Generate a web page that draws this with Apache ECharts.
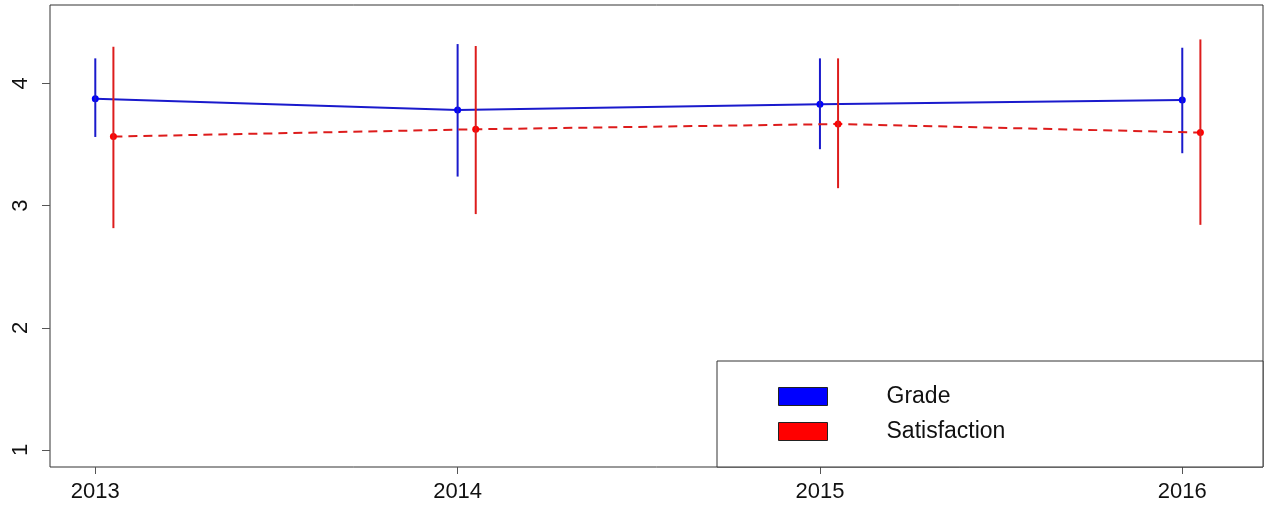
<!DOCTYPE html>
<html>
<head>
<meta charset="utf-8">
<script src="https://cdn.jsdelivr.net/npm/echarts@6/dist/echarts.min.js"></script>
<style>
  html, body { margin: 0; padding: 0; background: #fff; }
  #chart { width: 1274px; height: 512px; }
</style>
</head>
<body>
<div id="chart"></div>
<script>
// Yearly means with their interval bounds
const years = [2013, 2014, 2015, 2016];
const gradeMean = [3.874, 3.782, 3.828, 3.864];
const gradeLow = [3.561, 3.237, 3.461, 3.428];
const gradeHigh = [4.204, 4.321, 4.204, 4.291];
const satMean = [3.564, 3.624, 3.667, 3.597];
const satLow = [2.815, 2.930, 3.142, 2.842];
const satHigh = [4.299, 4.305, 4.204, 4.359];
const yTicks = [1, 2, 3, 4];

// Satisfaction is nudged right so its bars sit beside Grade's
const dodge = 0.05;

const FONT = '"Liberation Sans", Arial, sans-serif';
const BLUE = '#0000ff', BLUE_LINE = '#1a1acc';
const RED = '#ff0000', RED_LINE = '#dd1c1c';

const gradePts = years.map((y, i) => [y, gradeMean[i]]);
const satPts = years.map((y, i) => [y + dodge, satMean[i]]);
const gradeBars = years.map((y, i) => [y, gradeLow[i], gradeHigh[i]]);
const satBars = years.map((y, i) => [y + dodge, satLow[i], satHigh[i]]);

function errorBars(color) {
  return function (params, api) {
    const x = api.value(0);
    const p0 = api.coord([x, api.value(1)]);
    const p1 = api.coord([x, api.value(2)]);
    return {
      type: 'line',
      shape: { x1: p0[0], y1: p0[1], x2: p1[0], y2: p1[1] },
      style: { stroke: color, lineWidth: 2 }
    };
  };
}

const chart = echarts.init(document.getElementById('chart'), null, { renderer: 'canvas' });
chart.setOption({
  backgroundColor: '#fff',
  animation: false,
  grid: {
    left: 50, right: 11, top: 5, bottom: 45,
    show: true, borderColor: '#333', borderWidth: 1, backgroundColor: 'transparent'
  },
  xAxis: {
    type: 'value',
    min: 2012.875, max: 2016.2228,
    splitLine: { show: false },
    axisLine: { show: false },
    axisTick: { show: true, length: 7, lineStyle: { color: '#555' }, customValues: years },
    axisLabel: {
      customValues: years, margin: 14, fontSize: 22, fontFamily: FONT, color: '#111',
      formatter: v => String(v)
    }
  },
  yAxis: {
    type: 'value',
    min: 0.8609, max: 4.6406,
    splitLine: { show: false },
    axisLine: { show: false },
    axisTick: { show: true, length: 8, lineStyle: { color: '#555' }, customValues: yTicks },
    axisLabel: {
      customValues: yTicks, rotate: 90, margin: 18, fontSize: 22, fontFamily: FONT, color: '#111',
      formatter: v => String(v)
    }
  },
  legend: {
    orient: 'vertical',
    left: 717, top: 361,
    padding: [24, 0, 20, 61],
    itemWidth: 49, itemHeight: 18, itemGap: 12,
    selectedMode: false,
    textStyle: { fontSize: 23, fontFamily: FONT, color: '#111', padding: [0, 0, 0, 54] },
    data: [
      { name: 'Grade', icon: 'rect', itemStyle: { color: BLUE, borderColor: '#222', borderWidth: 1, borderType: 'solid' } },
      { name: 'Satisfaction', icon: 'rect', itemStyle: { color: RED, borderColor: '#222', borderWidth: 1, borderType: 'solid' } }
    ]
  },
  graphic: [{
    type: 'rect', z: 3,
    shape: { x: 717, y: 361, width: 546, height: 106 },
    style: { fill: '#fff', stroke: '#333', lineWidth: 1 }
  }],
  series: [
    {
      name: 'Grade', type: 'line', data: gradePts, z: 2,
      symbol: 'circle', symbolSize: 7,
      itemStyle: { color: BLUE },
      lineStyle: { color: BLUE_LINE, width: 2 }
    },
    {
      name: 'Grade', type: 'custom', data: gradeBars, z: 3,
      renderItem: errorBars(BLUE_LINE)
    },
    {
      name: 'Satisfaction', type: 'line', data: satPts, z: 4,
      symbol: 'circle', symbolSize: 7,
      itemStyle: { color: RED },
      lineStyle: { color: RED_LINE, width: 2, type: [9, 6] }
    },
    {
      name: 'Satisfaction', type: 'custom', data: satBars, z: 5,
      renderItem: errorBars(RED_LINE)
    }
  ]
});
</script>
</body>
</html>
